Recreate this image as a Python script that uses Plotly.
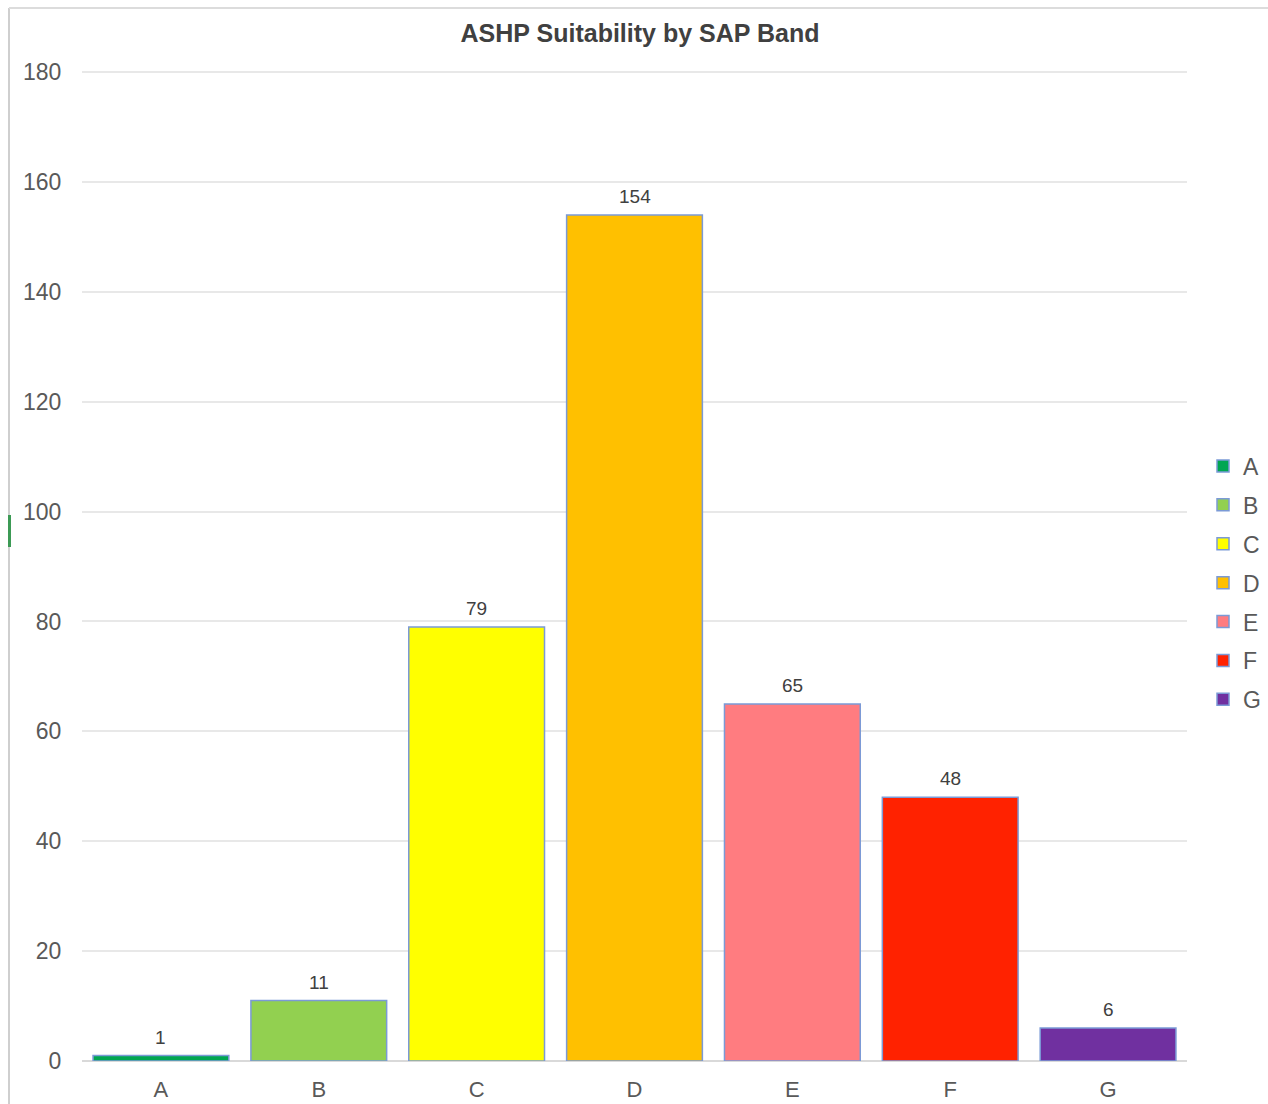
import plotly.graph_objects as go

# SAP bands and the number of properties suitable for an ASHP in each
bands = ["A", "B", "C", "D", "E", "F", "G"]
counts = [1, 11, 79, 154, 65, 48, 6]
band_colors = ["#00A651", "#92D050", "#FFFF00", "#FFC000", "#FF7C80", "#FF2200", "#7030A0"]
y_ticks = [0, 20, 40, 60, 80, 100, 120, 140, 160, 180]

FONT = "Liberation Sans, Arial, sans-serif"
W, H = 1268, 1104
L, R, T, B = 82, 81, 71, 43
plot_w, plot_h = W - L - R, H - T - B


def px_to_paper_x(px):
    return (px - L) / plot_w


def px_to_paper_y(py):
    return (H - B - py) / plot_h


fig = go.Figure()
for band, count, color in zip(bands, counts, band_colors):
    fig.add_trace(go.Bar(
        x=[band], y=[count], name=band, legendgroup=band,
        marker=dict(color=color, line=dict(color="#7B9AD6", width=1.5)),
        hoverinfo="x+y",
    ))

# value labels above each bar
for band, count in zip(bands, counts):
    fig.add_annotation(
        x=band, y=count, text=str(count), showarrow=False,
        yanchor="bottom", yshift=6,
        font=dict(family=FONT, size=19, color="#404040"),
    )

# chart frame (left and top edges) and the small marker on the left edge
frame_x = px_to_paper_x(9)
fig.add_shape(type="line", xref="paper", yref="paper",
              x0=frame_x, x1=frame_x, y0=px_to_paper_y(H), y1=px_to_paper_y(8),
              line=dict(color="#CFCFCF", width=2))
fig.add_shape(type="line", xref="paper", yref="paper",
              x0=frame_x, x1=px_to_paper_x(W), y0=px_to_paper_y(8), y1=px_to_paper_y(8),
              line=dict(color="#DCDCDC", width=2))
fig.add_shape(type="rect", xref="paper", yref="paper",
              x0=px_to_paper_x(8), x1=px_to_paper_x(11),
              y0=px_to_paper_y(547), y1=px_to_paper_y(515),
              line=dict(width=0), fillcolor="#3C9A55")

fig.update_layout(
    width=W, height=H,
    margin=dict(l=L, r=R, t=T, b=B, autoexpand=False),
    paper_bgcolor="white", plot_bgcolor="white",
    barmode="overlay", bargap=0.14,
    title=dict(text="<b>ASHP Suitability by SAP Band</b>",
               x=px_to_paper_x(640), xref="paper", xanchor="center",
               y=1 - 33 / H, yanchor="middle",
               font=dict(family=FONT, size=25, color="#404040")),
    font=dict(family=FONT, color="#595959"),
    xaxis=dict(
        type="category", categoryorder="array", categoryarray=bands,
        showgrid=False, showline=False, zeroline=False,
        ticks="outside", ticklen=9, tickcolor="rgba(0,0,0,0)",
        tickfont=dict(family=FONT, size=22, color="#595959"),
    ),
    yaxis=dict(
        range=[0, 180.2], tickvals=y_ticks, ticktext=[str(v) for v in y_ticks],
        showgrid=True, gridcolor="#E8E8E8", gridwidth=2,
        zeroline=True, zerolinecolor="#D9D9D9", zerolinewidth=2,
        showline=False, ticks="outside", ticklen=15, tickcolor="rgba(0,0,0,0)",
        tickfont=dict(family=FONT, size=23, color="#595959"),
    ),
    legend=dict(
        x=px_to_paper_x(1203), xanchor="left",
        y=px_to_paper_y(583), yanchor="middle",
        font=dict(family=FONT, size=23, color="#595959"),
        itemwidth=30, tracegroupgap=6,
        bgcolor="rgba(0,0,0,0)",
    ),
    showlegend=True,
)

fig.write_html("out.html")
